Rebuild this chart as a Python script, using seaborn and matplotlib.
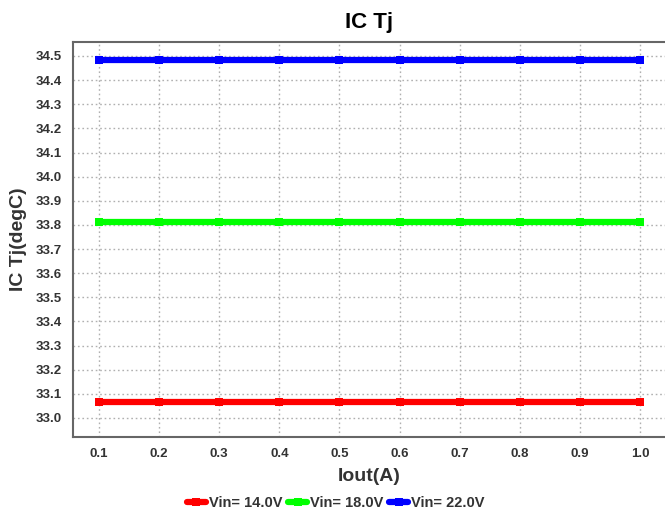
import numpy as np
import pandas as pd
import matplotlib
matplotlib.use("Agg")
import matplotlib.pyplot as plt
import seaborn as sns

iout = [0.1, 0.2, 0.3, 0.4, 0.5, 0.6, 0.7, 0.8, 0.9, 1.0]
tj_14v = [33.065] * 10
tj_18v = [33.812] * 10
tj_22v = [34.483] * 10
series_names = ["Vin= 14.0V", "Vin= 18.0V", "Vin= 22.0V"]
colors = ["#ff0000", "#00ff00", "#0000ff"]
yticks = [33.0, 33.1, 33.2, 33.3, 33.4, 33.5, 33.6, 33.7, 33.8, 33.9,
          34.0, 34.1, 34.2, 34.3, 34.4, 34.5]

df = pd.DataFrame({
    "Iout": iout * 3,
    "Tj": tj_14v + tj_18v + tj_22v,
    "Vin": [series_names[0]] * 10 + [series_names[1]] * 10 + [series_names[2]] * 10,
})

sns.set_style("white")
plt.rcParams["font.family"] = ["Liberation Sans", "DejaVu Sans"]

fig = plt.figure(figsize=(6.65, 5.13), dpi=100)
ax = fig.add_axes([73 / 665, 1 - 437 / 513, (665 - 73) / 665, (437 - 42) / 513])

sns.lineplot(data=df, x="Iout", y="Tj", hue="Vin", palette=colors, ax=ax,
             marker="s", markersize=6, markeredgewidth=0, linewidth=4.5, zorder=3)

ax.set_xlim(0.0567, 1.0416)
ax.set_ylim(32.921, 34.558)
ax.set_xticks(iout)
ax.set_xticklabels([f"{v:.1f}" for v in iout])
ax.set_yticks(yticks)
ax.set_yticklabels([f"{v:.1f}" for v in yticks])
ax.grid(True, linestyle=(0, (1.2, 2)), color="#b0b0b0", linewidth=1)
ax.tick_params(axis="both", length=0, labelsize=9.5, labelcolor="#333333", pad=8)
for lab in ax.get_xticklabels() + ax.get_yticklabels():
    lab.set_fontweight("bold")
ax.spines["right"].set_visible(False)
for s in ["left", "bottom", "top"]:
    ax.spines[s].set_color("#666666")
    ax.spines[s].set_linewidth(1.5)

ax.set_title("IC Tj", fontsize=16, fontweight="bold", color="black", pad=10)
ax.set_xlabel("Iout(A)", fontsize=14, fontweight="bold", color="#333333", labelpad=6)
ax.set_ylabel("IC Tj(degC)", fontsize=14, fontweight="bold", color="#333333", labelpad=6)

handles, labels = ax.get_legend_handles_labels()
ax.get_legend().remove()
leg = fig.legend(handles, labels, loc="center", bbox_to_anchor=(0.505, 0.02),
                 ncol=3, frameon=False, handlelength=1.3, handletextpad=0.2,
                 columnspacing=0.4, prop={"weight": "bold", "size": 10.5})
for t in leg.get_texts():
    t.set_color("#333333")

fig.savefig("out.png", dpi=100)
